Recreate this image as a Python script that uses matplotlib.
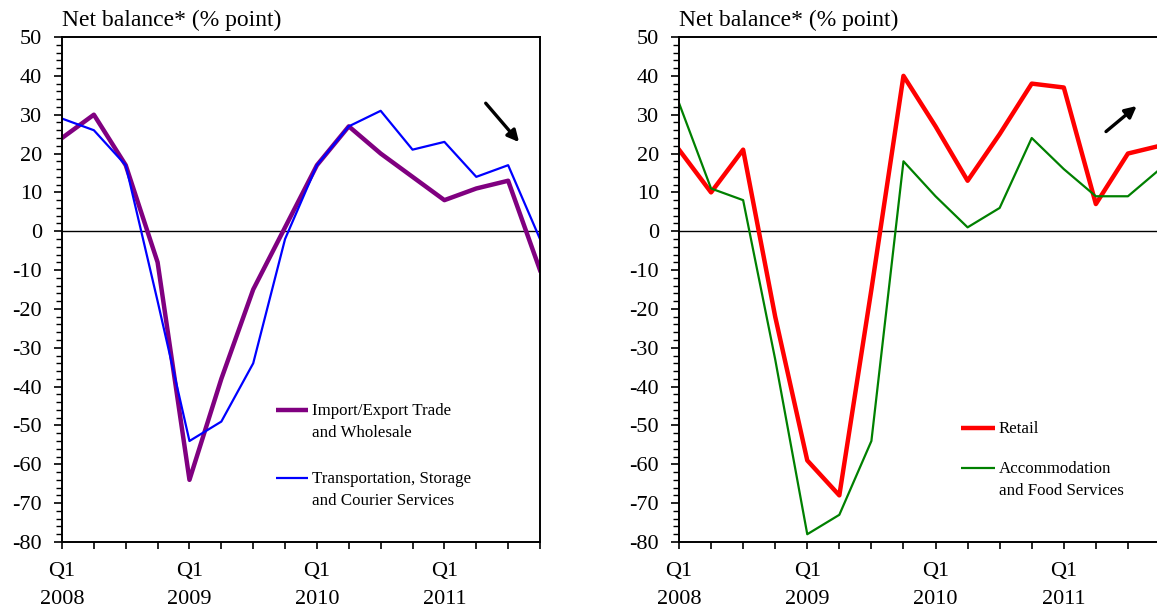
import numpy as np
import matplotlib
matplotlib.use("Agg")
import matplotlib.pyplot as plt
from matplotlib.ticker import MultipleLocator

plt.rcParams['font.family'] = ['Liberation Serif', 'DejaVu Serif']
plt.rcParams['axes.unicode_minus'] = False

# quarters Q1 2008 .. Q4 2011
quarters = np.arange(16)
year_labels = ["2008", "2009", "2010", "2011"]

# left panel
import_export = [24, 30, 17, -8, -64, -38, -15, 1, 17, 27, 20, 14, 8, 11, 13, -10]
transport = [29, 26, 17, -18, -54, -49, -34, -2, 17, 27, 31, 21, 23, 14, 17, -2]

# right panel
retail = [21, 10, 21, -22, -59, -68, -15, 40, 27, 13, 25, 38, 37, 7, 20, 22]
accommodation = [33, 11, 8, -33, -78, -73, -54, 18, 9, 1, 6, 24, 16, 9, 9, 16]

W, H = 1157, 610
fig = plt.figure(figsize=(W / 100, H / 100), dpi=100)


def px_axes(x0, x1, y0, y1):
    return fig.add_axes([x0 / W, 1 - y1 / H, (x1 - x0) / W, (y1 - y0) / H])


def style_axes(ax):
    ax.set_xlim(0, 15)
    ax.set_ylim(-80, 50)
    ax.yaxis.set_major_locator(MultipleLocator(10))
    ax.yaxis.set_minor_locator(MultipleLocator(2))
    ax.set_xticks(quarters)
    labels = []
    for q in quarters:
        if q % 4 == 0:
            labels.append("Q1\n" + year_labels[q // 4])
        else:
            labels.append("")
    ax.set_xticklabels(labels, linespacing=1.6)
    ax.tick_params(axis='y', which='major', direction='out', length=6, width=1.2,
                   labelsize=16, pad=8.5)
    ax.tick_params(axis='y', which='minor', direction='out', length=4, width=1.0)
    ax.tick_params(axis='x', which='major', direction='out', length=5, width=1.2,
                   labelsize=16, pad=9.5)
    for sp in ax.spines.values():
        sp.set_linewidth(1.4)
    ax.axhline(0, color='black', linewidth=1.0, zorder=1)
    ax.text(0, 1.0218, "Net balance* (% point)", transform=ax.transAxes,
            fontsize=17, ha='left', va='baseline')


def legend_entry(ax, x0, x1, y, color, lw, text):
    ax.plot([x0, x1], [y, y], color=color, linewidth=lw, transform=ax.transAxes,
            solid_capstyle='butt', clip_on=False)
    ax.text(x1 + 0.008, y + 0.013, text, transform=ax.transAxes, fontsize=12.2,
            ha='left', va='top', linespacing=1.5)


# ---- painel esquerdo
ax1 = px_axes(62, 540, 37, 542)
style_axes(ax1)
ax1.plot(quarters, import_export, color='#800080', linewidth=3.2)
ax1.plot(quarters, transport, color='#0000FF', linewidth=1.6)
legend_entry(ax1, 0.448, 0.515, 0.2614, '#800080', 3.2,
             "Import/Export Trade\nand Wholesale")
legend_entry(ax1, 0.448, 0.515, 0.1268, '#0000FF', 1.6,
             "Transportation, Storage\nand Courier Services")
ax1.annotate("", xy=(14.4, 22.4), xytext=(13.24, 33.5),
             arrowprops=dict(arrowstyle='-|>', color='black', lw=2.4,
                             mutation_scale=17))

# ---- painel direito (cortado na borda direita)
ax2 = px_axes(679, 1160, 37, 542)
style_axes(ax2)
ax2.plot(quarters, retail, color='#FF0000', linewidth=3.2)
ax2.plot(quarters, accommodation, color='#008000', linewidth=1.6)
legend_entry(ax2, 0.586, 0.657, 0.2257, '#FF0000', 3.2, "Retail")
legend_entry(ax2, 0.586, 0.657, 0.1465, '#008000', 1.6,
             "Accommodation\nand Food Services")
ax2.annotate("", xy=(14.34, 32.7), xytext=(13.25, 25.2),
             arrowprops=dict(arrowstyle='-|>', color='black', lw=2.4,
                             mutation_scale=17))

fig.savefig("out.png", dpi=100)
